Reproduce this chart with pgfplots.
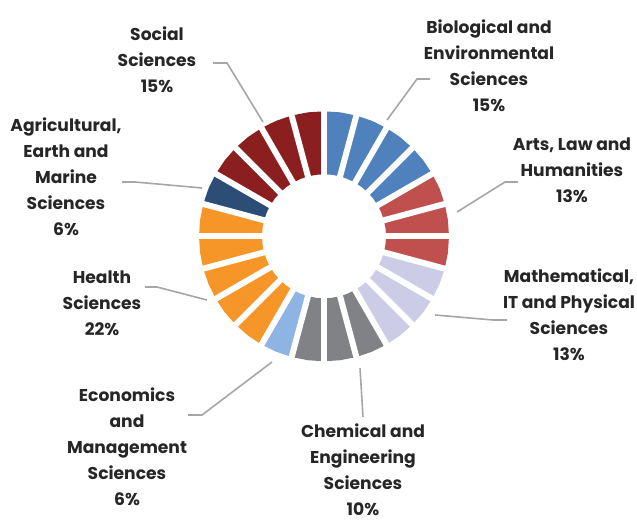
\documentclass[border=0pt]{standalone}
\usepackage{pgfplots}
\pgfplotsset{compat=1.18}
\usepackage{fontspec}
\setmainfont{Poppins}
\definecolor{cBio}{HTML}{4F81BD}
\definecolor{cArts}{HTML}{C0504D}
\definecolor{cMath}{HTML}{CCCCE6}
\definecolor{cChem}{HTML}{808285}
\definecolor{cEcon}{HTML}{8DB4E2}
\definecolor{cHealth}{HTML}{F79628}
\definecolor{cAgri}{HTML}{2C4D75}
\definecolor{cSoc}{HTML}{8B1E1E}
\definecolor{cLead}{HTML}{A6A6A6}
\definecolor{cText}{HTML}{262626}
\tikzset{lab/.style={font=\fontsize{17.2}{26}\selectfont\bfseries, text=cText, align=center, inner sep=0pt}}
\begin{document}
\begin{tikzpicture}
\begin{axis}[x=1bp,y=1bp,scale only axis,hide axis,clip=false,
  xmin=-324,xmax=313,ymin=-284.7,ymax=236.3,
  every axis plot/.append style={draw=none, data cs=polar}]
\path (axis cs:-324,-284.7) rectangle (axis cs:313,236.3);
% Biological and Environmental Sciences 15%
\addplot[fill=cBio] coordinates {(90,125)(82.5,125)(75,125)(67.5,125)(60,125)(52.5,125)(45,125)(37.5,125)(30,125)
 (30,62)(37.5,62)(45,62)(52.5,62)(60,62)(67.5,62)(75,62)(82.5,62)(90,62)};
% Arts, Law and Humanities 13%
\addplot[fill=cArts] coordinates {(30,125)(22.5,125)(15,125)(7.5,125)(0,125)(-7.5,125)(-15,125)
 (-15,62)(-7.5,62)(0,62)(7.5,62)(15,62)(22.5,62)(30,62)};
% Mathematical, IT and Physical Sciences 13%
\addplot[fill=cMath] coordinates {(-15,125)(-22.5,125)(-30,125)(-37.5,125)(-45,125)(-52.5,125)(-60,125)
 (-60,62)(-52.5,62)(-45,62)(-37.5,62)(-30,62)(-22.5,62)(-15,62)};
% Chemical and Engineering Sciences 10%
\addplot[fill=cChem] coordinates {(-60,125)(-67.5,125)(-75,125)(-82.5,125)(-90,125)(-97.5,125)(-105,125)
 (-105,62)(-97.5,62)(-90,62)(-82.5,62)(-75,62)(-67.5,62)(-60,62)};
% Economics and Management Sciences 6%
\addplot[fill=cEcon] coordinates {(-105,125)(-112.5,125)(-120,125)
 (-120,62)(-112.5,62)(-105,62)};
% Health Sciences 22%
\addplot[fill=cHealth] coordinates {(-120,125)(-127.5,125)(-135,125)(-142.5,125)(-150,125)(-157.5,125)(-165,125)(-172.5,125)(-180,125)(-187.5,125)(-195,125)
 (-195,62)(-187.5,62)(-180,62)(-172.5,62)(-165,62)(-157.5,62)(-150,62)(-142.5,62)(-135,62)(-127.5,62)(-120,62)};
% Agricultural, Earth and Marine Sciences 6%
\addplot[fill=cAgri] coordinates {(-195,125)(-202.5,125)(-210,125)
 (-210,62)(-202.5,62)(-195,62)};
% Social Sciences 15%
\addplot[fill=cSoc] coordinates {(-210,125)(-217.5,125)(-225,125)(-232.5,125)(-240,125)(-247.5,125)(-255,125)(-262.5,125)(-270,125)
 (-270,62)(-262.5,62)(-255,62)(-247.5,62)(-240,62)(-232.5,62)(-225,62)(-217.5,62)(-210,62)};
% white gaps between the 24 blocks
\pgfplotsinvokeforeach{0,15,...,345}{
  \addplot[draw=white, line width=6bp] coordinates {(#1,50)(#1,135)};
}
% leader lines
\draw[cLead, line width=1.6bp] (axis cs:-111,173.3) -- (axis cs:-97,173.3) -- (axis cs:-61,114.3);
\draw[cLead, line width=1.6bp] (axis cs:-202,54.3) -- (axis cs:-189,54.3) -- (axis cs:-122,48.3);
\draw[cLead, line width=1.6bp] (axis cs:106,157.3) -- (axis cs:93,157.3) -- (axis cs:63,116.3);
\draw[cLead, line width=1.6bp] (axis cs:194,54.3) -- (axis cs:181,54.3) -- (axis cs:133,24.3);
\draw[cLead, line width=1.6bp] (axis cs:183,-83.7) -- (axis cs:169,-83.7) -- (axis cs:111,-78.7);
\draw[cLead, line width=1.6bp] (axis cs:39,-180.7) -- (axis cs:36,-131.7);
\draw[cLead, line width=1.6bp] (axis cs:-136,-178.7) -- (axis cs:-122,-178.7) -- (axis cs:-52,-125.7);
\draw[cLead, line width=1.6bp] (axis cs:-179,-50.7) -- (axis cs:-167,-50.7) -- (axis cs:-117,-63.7);
% labels
\node[lab] at (axis cs:-167,176.3) {Social\\Sciences\\15\%};
\node[lab] at (axis cs:-258,59.3) {Agricultural,\\Earth and\\Marine\\Sciences\\6\%};
\node[lab] at (axis cs:165,170.3) {Biological and\\Environmental\\Sciences\\15\%};
\node[lab] at (axis cs:248,66.3) {Arts, Law and\\Humanities\\13\%};
\node[lab] at (axis cs:245,-78.7) {Mathematical,\\IT and Physical\\Sciences\\13\%};
\node[lab] at (axis cs:39,-233.2) {Chemical and\\Engineering\\Sciences\\10\%};
\node[lab] at (axis cs:-197,-210.2) {Economics\\and\\Management\\Sciences\\6\%};
\node[lab] at (axis cs:-222,-66.7) {Health\\Sciences\\22\%};
\end{axis}
\end{tikzpicture}
\end{document}
